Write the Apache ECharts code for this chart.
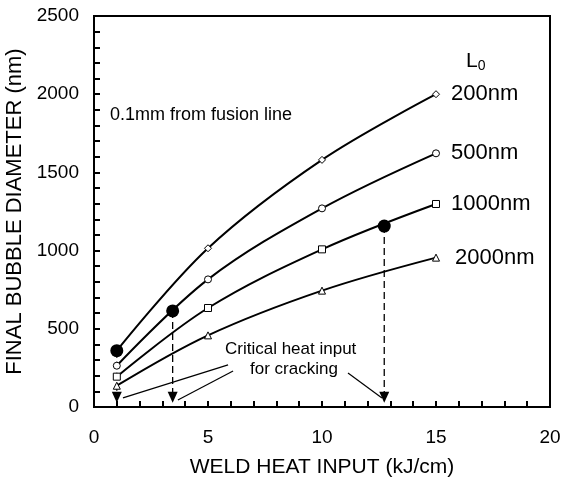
<!DOCTYPE html>
<html>
<head>
<meta charset="utf-8">
<script src="https://cdn.jsdelivr.net/npm/echarts@6/dist/echarts.min.js"></script>
<style>
  html, body { margin: 0; padding: 0; background: #fff; }
  #chart { width: 562px; height: 477px; }
</style>
</head>
<body>
<div id="chart"></div>
<script>
  // heat input (kJ/cm) where the markers sit
  const heatInput = [1, 5, 10, 15];
  // final bubble diameter (nm) for each initial L0
  const d200 = [360, 1015, 1580, 2000];
  const d500 = [264, 816, 1270, 1622];
  const d1000 = [194, 633, 1008, 1298];
  const d2000 = [136, 458, 744, 955];
  const seriesNames = ['200nm', '500nm', '1000nm', '2000nm'];
  const seriesSymbols = ['diamond', 'circle', 'rect', 'triangle'];

  // critical heat input for cracking (big dots)
  const critX = [1, 3.45, 12.73];
  const critY = [360, 614, 1157];
  const arrowY = 62;

  // pointer lines from the note to the arrows
  const pointer1 = [[1.27, 58], [5.88, 269]];
  const pointer2 = [[3.68, 45], [6.1, 230]];
  const pointer3 = [[11.14, 217], [12.63, 58]];

  const font = '"Liberation Sans", Arial, sans-serif';
  const chart = echarts.init(document.getElementById('chart'));

  const allData = [d200, d500, d1000, d2000];
  const curveSeries = allData.map(function (vals, i) {
    return {
      name: seriesNames[i],
      type: 'line',
      smooth: 0.35,
      symbol: seriesSymbols[i],
      symbolSize: 7,
      showAllSymbol: true,
      itemStyle: { color: '#fff', borderColor: '#000', borderWidth: 1 },
      lineStyle: { color: '#000', width: 2 },
      z: 3,
      data: vals.map(function (v, k) {
        const p = { value: [heatInput[k], v] };
        if (k === 0 && i === 0) p.symbol = 'none';
        if (k === vals.length - 1) {
          p.label = {
            show: true,
            position: 'right',
            distance: i === 3 ? 15 : 11,
            formatter: seriesNames[i],
            fontFamily: font,
            fontSize: 22,
            color: '#000'
          };
        }
        return p;
      })
    };
  });

  const dashSeries = critX.map(function (x, i) {
    return {
      type: 'line',
      symbol: 'none',
      lineStyle: { color: '#000', width: 1.3, type: [7, 4] },
      z: 2,
      data: [[x, critY[i]], [x, arrowY + 4]]
    };
  });

  const pointerSeries = [pointer1, pointer2, pointer3].map(function (pts) {
    return {
      type: 'line',
      symbol: 'none',
      lineStyle: { color: '#000', width: 1.2 },
      z: 2,
      data: pts
    };
  });

  chart.setOption({
    animation: false,
    backgroundColor: '#fff',
    grid: {
      left: 94, right: 12, top: 16, bottom: 70,
      outerBoundsMode: 'none',
      containLabel: false,
      show: true, borderColor: '#000', borderWidth: 2
    },
    xAxis: {
      type: 'value',
      min: 0, max: 20, interval: 5,
      name: 'WELD HEAT INPUT (kJ/cm)',
      nameLocation: 'middle',
      nameGap: 50,
      nameTextStyle: { fontFamily: font, fontSize: 21, color: '#000' },
      axisLine: { lineStyle: { color: '#000', width: 2 } },
      axisTick: { inside: true, length: 6, lineStyle: { color: '#000', width: 2 } },
      minorTick: { show: true, splitNumber: 5, length: 6, lineStyle: { color: '#000', width: 2 } },
      axisLabel: { fontFamily: font, fontSize: 19, color: '#000', margin: 21 },
      splitLine: { show: false }
    },
    yAxis: {
      type: 'value',
      min: 0, max: 2500, interval: 500,
      name: 'FINAL BUBBLE DIAMETER (nm)',
      nameLocation: 'middle',
      nameGap: 68,
      nameTextStyle: { fontFamily: font, fontSize: 22, color: '#000' },
      axisLine: { lineStyle: { color: '#000', width: 2 } },
      axisTick: { inside: true, length: 6, lineStyle: { color: '#000', width: 2 } },
      minorTick: { show: true, splitNumber: 5, length: 6, lineStyle: { color: '#000', width: 2 } },
      axisLabel: {
        fontFamily: font, fontSize: 19, color: '#000', margin: 15,
        formatter: function (v) { return String(v); }
      },
      splitLine: { show: false }
    },
    graphic: [
      { type: 'text', left: 110, top: 106,
        style: { text: '0.1mm from fusion line', font: '18px ' + font, fill: '#000' } },
      { type: 'text', left: 466, top: 51,
        style: {
          text: '{a|L}{b|0}',
          rich: {
            a: { fontSize: 21, fontFamily: font, fill: '#000' },
            b: { fontSize: 14, fontFamily: font, fill: '#000', padding: [10, 0, 0, 0] }
          }
        } },
      { type: 'text', left: 225, top: 341,
        style: { text: 'Critical heat input', font: '17px ' + font, fill: '#000' } },
      { type: 'text', left: 250, top: 361,
        style: { text: 'for cracking', font: '17px ' + font, fill: '#000' } }
    ],
    series: curveSeries.concat(dashSeries, pointerSeries, [
      {
        type: 'scatter',
        symbol: 'circle',
        symbolSize: 13,
        itemStyle: { color: '#000', opacity: 1 },
        z: 5,
        data: critX.map(function (x, i) { return [x, critY[i]]; })
      },
      {
        type: 'scatter',
        symbol: 'triangle',
        symbolRotate: 180,
        symbolSize: [10, 11],
        itemStyle: { color: '#000', opacity: 1 },
        z: 5,
        data: critX.map(function (x) { return [x, arrowY]; })
      }
    ])
  });
</script>
</body>
</html>
